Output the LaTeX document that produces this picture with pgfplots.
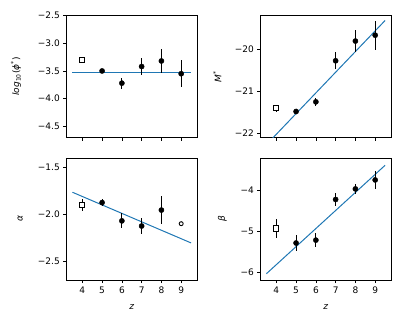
\documentclass[border=0pt]{standalone}
\usepackage{fontspec}
\setmainfont{DejaVu Sans}
\usepackage{pgfplots}
\pgfplotsset{compat=1.18}
\definecolor{mplblue}{HTML}{1F77B4}
\pgfplotsset{
  myax/.style={
    scale only axis, width=130.5pt, height=122pt,
    anchor=south west,
    xmin=3.2, xmax=9.8,
    xtick={4,5,6,7,8,9},
    tick align=outside, xtick pos=bottom, ytick pos=left,
    major tick length=3.2pt,
    every tick/.style={black, line width=0.7pt},
    axis line style={line width=0.7pt},
    tick label style={font=\fontsize{9}{11}\selectfont},
    label style={font=\fontsize{9}{11}\selectfont},
    ylabel style={anchor=center},
    /pgf/number format/assume math mode=true,
    clip mode=individual,
  },
  pts/.style={only marks, mark=*, mark size=2.6pt, black,
    error bars/.cd, y dir=both, y explicit, error mark=none,
    error bar style={line width=1.1pt, black}},
  sq/.style={only marks, mark=square*, mark size=2.6pt, black, line width=0.9pt,
    mark options={fill=white, draw=black, solid},
    error bars/.cd, y dir=both, y explicit, error mark=none,
    error bar style={line width=1.1pt, black}},
  fit/.style={mplblue, line width=1.0pt, no marks},
}
\begin{document}
\begin{tikzpicture}[x=1pt,y=1pt]
\path[use as bounding box] (0,0) rectangle (407,326);
% top-left
\begin{axis}[myax, at={(66.5pt,188.5pt)},
  ymin=-4.7, ymax=-2.5,
  ytick={-4.5,-4,-3.5,-3,-2.5},
  yticklabels={−4.5,−4.0,−3.5,−3.0,−2.5},
  xticklabels={},
  ylabel={\textit{log}\textsubscript{10}(\textit{ϕ}\textsuperscript{*})},
  ylabel style={at={(axis description cs:-0.387,0.5)}},
]
\addplot[fit] coordinates {(3.5,-3.52) (9.5,-3.52)};
\addplot[sq] coordinates {(4,-3.30) +- (0,0.03)};
\addplot[pts] coordinates {
(5,-3.50) +- (0,0.03)
(6,-3.72) +- (0,0.10)
(7,-3.42) +- (0,0.16)
(8,-3.32) +- (0,0.22)
(9,-3.55) +- (0,0.24)
};
\end{axis}
% top-right
\begin{axis}[myax, at={(260.5pt,188.5pt)},
  ymin=-22.1, ymax=-19.19,
  ytick={-22,-21,-20},
  yticklabels={−22,−21,−20},
  xticklabels={},
  ylabel={\textit{M}\textsuperscript{*}},
  ylabel style={at={(axis description cs:-0.331,0.5)}},
]
\addplot[fit] coordinates {(3.5,-22.27) (9.5,-19.31)};
\addplot[sq] coordinates {(4,-21.40) +- (0,0.08)};
\addplot[pts] coordinates {
(5,-21.48) +- (0,0.04)
(6,-21.25) +- (0,0.10)
(7,-20.27) +- (0,0.20)
(8,-19.80) +- (0,0.27)
(9,-19.66) +- (0,0.35)
};
\end{axis}
% bottom-left
\begin{axis}[myax, at={(66.5pt,46pt)},
  ymin=-2.7, ymax=-1.4,
  ytick={-2.5,-2,-1.5},
  yticklabels={−2.5,−2.0,−1.5},
  xticklabels={4,5,6,7,8,9},
  xlabel={\textit{z}},
  xlabel style={at={(axis description cs:0.5,-0.221)}, anchor=center},
  ylabel={\textit{α}},
  ylabel style={at={(axis description cs:-0.356,0.5)}},
]
\addplot[fit] coordinates {(3.5,-1.765) (9.5,-2.305)};
\addplot[sq] coordinates {(4,-1.90) +- (0,0.06)};
\addplot[pts] coordinates {
(5,-1.875) +- (0,0.04)
(6,-2.07) +- (0,0.08)
(7,-2.125) +- (0,0.09)
(8,-1.955) +- (0,0.15)
};
\addplot[only marks, mark=*, mark size=2.0pt, mark options={fill=white, draw=black, line width=0.9pt}] coordinates {(9,-2.10)};
\end{axis}
% bottom-right
\begin{axis}[myax, at={(260.5pt,46pt)},
  ymin=-6.2, ymax=-3.2,
  ytick={-6,-5,-4},
  yticklabels={−6,−5,−4},
  xticklabels={4,5,6,7,8,9},
  xlabel={\textit{z}},
  xlabel style={at={(axis description cs:0.5,-0.221)}, anchor=center},
  ylabel={\textit{β}},
  ylabel style={at={(axis description cs:-0.293,0.5)}},
]
\addplot[fit] coordinates {(3.5,-6.045) (9.5,-3.38)};
\addplot[sq] coordinates {(4,-4.93) +- (0,0.23)};
\addplot[pts] coordinates {
(5,-5.29) +- (0,0.20)
(6,-5.22) +- (0,0.18)
(7,-4.22) +- (0,0.17)
(8,-3.96) +- (0,0.13)
(9,-3.74) +- (0,0.22)
};
\end{axis}
\end{tikzpicture}
\end{document}
